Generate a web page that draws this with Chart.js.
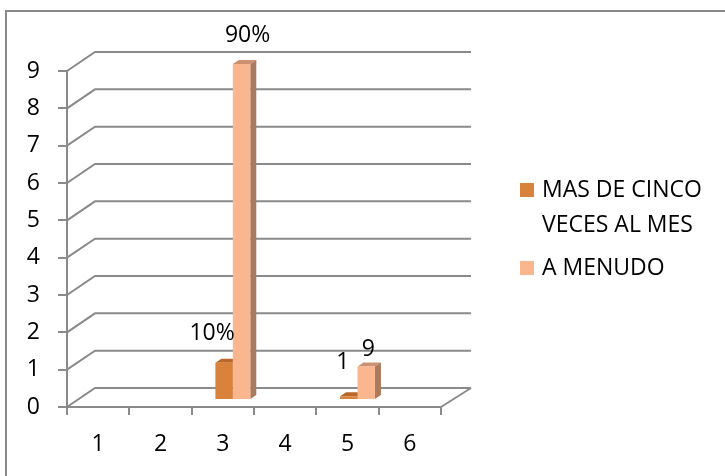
<!DOCTYPE html>
<html>
<head>
<meta charset="utf-8">
<script src="https://cdn.jsdelivr.net/npm/chart.js@4.4.0/dist/chart.umd.min.js"></script>
<style>
  html, body { margin: 0; padding: 0; background: #fff; }
  #wrap { position: relative; width: 725px; height: 476px; }
</style>
</head>
<body>
<div id="wrap"><canvas id="freqChart" width="725" height="476"></canvas></div>
<script>
// Data
const categories = ['1', '2', '3', '4', '5', '6'];
const seriesNames = ['MAS DE CINCO VECES AL MES', 'A MENUDO'];
const masDeCinco = [null, null, 1, null, 0.1, null];
const aMenudo = [null, null, 9, null, 0.9, null];
const masDeCincoLabels = ['', '', '10%', '', '1', ''];
const aMenudoLabels = ['', '', '90%', '', '9', ''];
const yMin = 0;
const yMax = 9;

// Look
const FONT = '"Open Sans", sans-serif';
const FONT_SIZE = 23;
const GRID = '#8a8a8a';
const WALL = { dx: 28, dy: -19 };      // back wall offset
const BAR_SHIFT = { dx: 10, dy: -7 };  // bars stand a bit inside the floor
const BAR_DEPTH = { dx: 6, dy: -4 };   // visible top / side face

const seriesStyle = [
  { front: '#d9823b', top: '#b8682a', side: '#9e5a24' },
  { front: '#fab68e', top: '#cc9172', side: '#a97a5e' }
];
// label offsets from the bar's top centre, per dataset / point
const labelNudge = [
  [null, null, [-12, -29], null, [-6, -34], null],
  [null, null, [6, -29], null, [2, -17], null]
];

Chart.defaults.font.family = FONT;
Chart.defaults.font.size = FONT_SIZE;
Chart.defaults.color = '#000';

function poly(ctx, pts, fill) {
  ctx.beginPath();
  ctx.moveTo(pts[0][0], pts[0][1]);
  for (let i = 1; i < pts.length; i++) ctx.lineTo(pts[i][0], pts[i][1]);
  ctx.closePath();
  ctx.fillStyle = fill;
  ctx.fill();
}

const scene3d = {
  id: 'scene3d',
  beforeDatasetsDraw(chart) {
    const { ctx, chartArea: a, scales: { y } } = chart;
    // back wall gridlines with the slanted left edge
    ctx.save();
    ctx.strokeStyle = GRID;
    ctx.lineWidth = 2;
    y.ticks.forEach(t => {
      const py = y.getPixelForValue(t.value);
      ctx.beginPath();
      ctx.moveTo(a.left, py);
      ctx.lineTo(a.left + WALL.dx, py + WALL.dy);
      ctx.lineTo(a.right + WALL.dx + 2, py + WALL.dy);
      ctx.stroke();
    });
    // floor right edge
    ctx.beginPath();
    ctx.moveTo(a.right, a.bottom);
    ctx.lineTo(a.right + WALL.dx + 2, a.bottom + WALL.dy);
    ctx.stroke();
    ctx.restore();

    // bars: shift into the floor, draw top/side faces before the fronts
    ctx.save();
    ctx.translate(BAR_SHIFT.dx, BAR_SHIFT.dy);
    chart.data.datasets.forEach((ds, i) => {
      const st = seriesStyle[i];
      chart.getDatasetMeta(i).data.forEach((bar, j) => {
        if (ds.data[j] == null) return;
        const { x, y: top, base, width } = bar.getProps(['x', 'y', 'base', 'width'], true);
        const l = x - width / 2, r = x + width / 2;
        const d = BAR_DEPTH;
        poly(ctx, [[l, top], [l + d.dx, top + d.dy], [r + d.dx, top + d.dy], [r, top]], st.top);
        poly(ctx, [[r, top], [r + d.dx, top + d.dy], [r + d.dx, base + d.dy], [r, base]], st.side);
      });
    });
  },
  afterDatasetsDraw(chart) {
    const { ctx } = chart;
    ctx.font = FONT_SIZE + 'px ' + FONT;
    ctx.fillStyle = '#000';
    ctx.textAlign = 'center';
    ctx.textBaseline = 'middle';
    chart.data.datasets.forEach((ds, i) => {
      chart.getDatasetMeta(i).data.forEach((bar, j) => {
        const txt = ds.valueLabels[j];
        if (!txt) return;
        const { x, y } = bar.getProps(['x', 'y'], true);
        const n = labelNudge[i][j] || [0, -20];
        ctx.fillText(txt, x + n[0], y + n[1]);
      });
    });
    ctx.restore();
  },
  afterDraw(chart) {
    const { ctx } = chart;
    ctx.save();
    // frame
    ctx.strokeStyle = '#888';
    ctx.lineWidth = 2;
    ctx.beginPath();
    ctx.moveTo(6, 476);
    ctx.lineTo(6, 11);
    ctx.lineTo(725, 11);
    ctx.stroke();

    // legend
    ctx.font = FONT_SIZE + 'px ' + FONT;
    ctx.textAlign = 'left';
    ctx.textBaseline = 'middle';
    let ly = 190;
    chart.data.datasets.forEach((ds, i) => {
      ctx.fillStyle = seriesStyle[i].front;
      ctx.fillRect(520, ly - 7, 14, 14);
      ctx.fillStyle = '#000';
      const words = ds.label.split(' ');
      const lines = [];
      let cur = '';
      words.forEach(w => {
        const test = cur ? cur + ' ' + w : w;
        if (ctx.measureText(test).width > 180 && cur) { lines.push(cur); cur = w; } else cur = test;
      });
      lines.push(cur);
      lines.forEach((ln, k) => ctx.fillText(ln, 542, ly + k * 35));
      ly += lines.length * 35 + 8;
    });
    ctx.restore();
  }
};

new Chart(document.getElementById('freqChart'), {
  type: 'bar',
  data: {
    labels: categories,
    datasets: [
      { label: seriesNames[0], data: masDeCinco, backgroundColor: seriesStyle[0].front, valueLabels: masDeCincoLabels, clip: false },
      { label: seriesNames[1], data: aMenudo, backgroundColor: seriesStyle[1].front, valueLabels: aMenudoLabels, clip: false }
    ]
  },
  options: {
    responsive: false,
    animation: false,
    layout: { padding: { left: 0, top: 71, right: 284, bottom: 0 } },
    datasets: { bar: { categoryPercentage: 0.56, barPercentage: 1 } },
    plugins: { legend: { display: false }, tooltip: { enabled: false } },
    scales: {
      x: {
        grid: { offset: true, drawOnChartArea: false, color: GRID, lineWidth: 2, tickLength: 8 },
        border: { color: GRID, width: 2 },
        ticks: { padding: 16 },
        afterFit: s => { s.height = 69; }
      },
      y: {
        min: yMin,
        max: yMax,
        ticks: { stepSize: 1, padding: 18 },
        grid: { drawOnChartArea: false, color: GRID, lineWidth: 2, tickLength: 9 },
        border: { color: GRID, width: 2 },
        afterFit: s => { s.width = 67; }
      }
    }
  },
  plugins: [scene3d]
});
</script>
</body>
</html>
